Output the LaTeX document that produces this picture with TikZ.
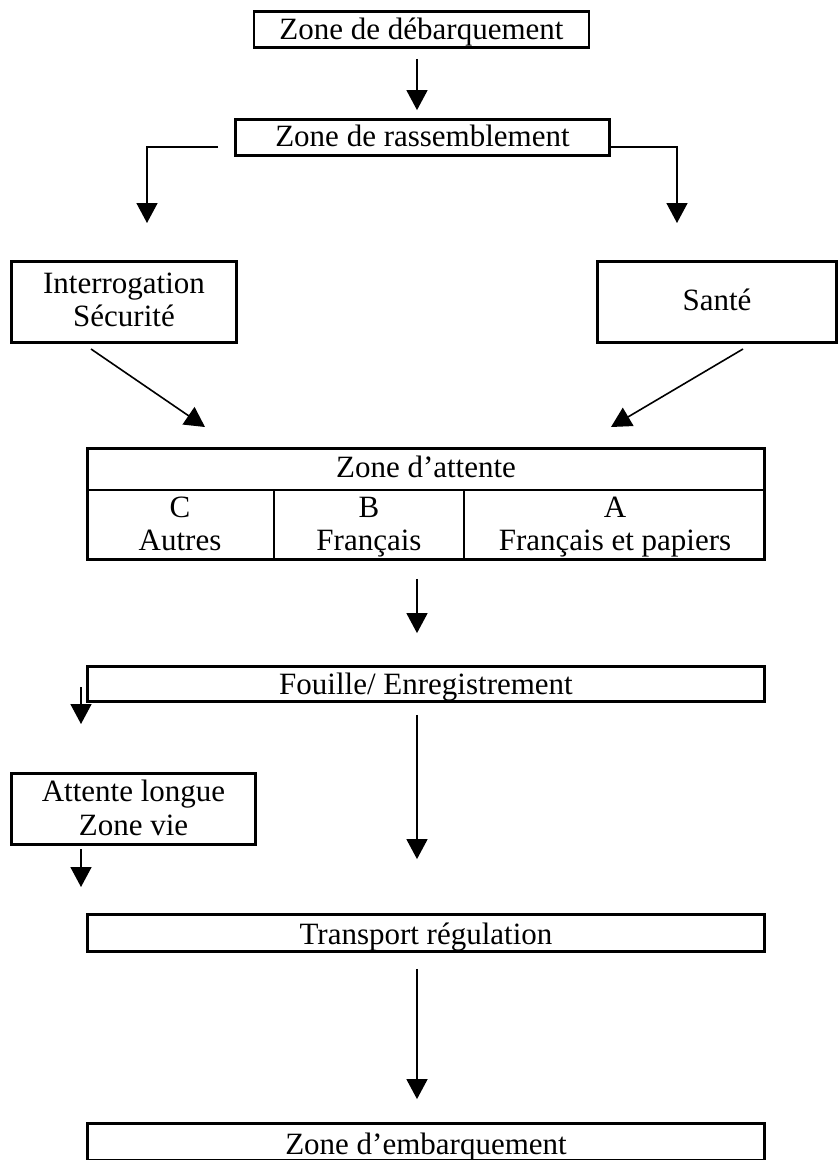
\documentclass[tikz,border=0pt]{standalone}
\usepackage{fontspec}
\setmainfont{Liberation Serif}
\usetikzlibrary{arrows.meta}
\begin{document}
\begin{tikzpicture}[x=1pt,y=-1pt,
  box/.style={draw, line width=2.8pt, inner sep=0pt, text depth=0pt, font=\fontsize{31}{34}\selectfont},
  lbl/.style={inner sep=0pt, anchor=base, font=\fontsize{31}{34}\selectfont},
  arr/.style={line width=1.6pt, -{Triangle[width=21pt,length=20pt]}},
  sep/.style={line width=2.8pt},
]
\useasboundingbox (0,0) rectangle (839,1160);
\fill[white] (0,0) rectangle (839,1160);

% boxes
\node[box, minimum width=335pt, minimum height=36pt, text height=20pt] (deb) at (421.5,29.5) {Zone de débarquement};
\node[box, minimum width=374pt, minimum height=36pt, text height=18pt] (ras) at (422.5,137.5) {Zone de rassemblement};
\node[box, minimum width=225pt, minimum height=81pt] (interr) at (124,302) {};
\node[lbl] (interr1) at (124,293) {Interrogation};
\node[lbl] (interr2) at (124,326) {Sécurité};
\node[box, minimum width=239pt, minimum height=81pt, text height=16pt] (sante) at (717,302) {Santé};

% waiting-zone table
\node[box, minimum width=677pt, minimum height=111pt] (tab) at (426,504) {};
\coordinate (rowL) at (86,490);
\coordinate (rowR) at (766,490);
\coordinate (c1t) at (274,490);
\coordinate (c2t) at (464,490);
\draw[sep] (rowL) -- (rowR);
\draw[sep] (c1t) -- (c1t |- tab.south);
\draw[sep] (c2t) -- (c2t |- tab.south);
\node[lbl] (tz) at (426,477) {Zone d’attente};
\node[lbl] (tc1) at (180,517) {C};
\node[lbl] (tc2) at (180,550) {Autres};
\node[lbl] (tb1) at (369,517) {B};
\node[lbl] (tb2) at (369,550) {Français};
\node[lbl] (ta1) at (615,517) {A};
\node[lbl] (ta2) at (615,550) {Français et papiers};

\node[box, minimum width=677pt, minimum height=35pt, text height=21pt] (fou) at (426,684) {Fouille/ Enregistrement};
\node[box, minimum width=244pt, minimum height=71pt] (att) at (133.5,809) {};
\node[lbl] (att1) at (133.5,801) {Attente longue};
\node[lbl] (att2) at (133.5,835) {Zone vie};
\node[box, minimum width=677pt, minimum height=37pt, text height=22pt] (tra) at (426,933) {Transport régulation};
\node[box, minimum width=677pt, minimum height=37pt, text height=24pt] (emb) at (426,1142) {Zone d’embarquement};

% free ends
\coordinate (ltip) at (147,223);
\coordinate (rtip) at (677,223);
\coordinate (d1a) at (91,349);
\coordinate (d1b) at (205,427);
\coordinate (d2a) at (743,349);
\coordinate (d2b) at (611,427);
\coordinate (f1) at (81,687);
\coordinate (f2) at (81,724);
\coordinate (g1) at (81,849);
\coordinate (g2) at (81,887);

% connectors
\draw[arr, shorten <=10pt, shorten >=8pt] ([xshift=-4.5pt]deb.south) -- ([xshift=-5.5pt]ras.north);
\draw[arr, shorten <=16pt] ([yshift=-9.5pt]ras.west) -| (ltip);
\draw[arr] ([yshift=-9.5pt]ras.east) -| (rtip);
\draw[arr] (d1a) -- (d1b);
\draw[arr] (d2a) -- (d2b);
\draw[arr, shorten <=18pt, shorten >=32pt] ([xshift=-9pt]tab.south) -- ([xshift=-9pt]fou.north);
\draw[arr] (f1) -- (f2);
\draw[arr, shorten <=12pt, shorten >=54pt] ([xshift=-9pt]fou.south) -- ([xshift=-9pt]tra.north);
\draw[arr] (g1) -- (g2);
\draw[arr, shorten <=16pt, shorten >=23pt] ([xshift=-9pt]tra.south) -- ([xshift=-9pt]emb.north);
\end{tikzpicture}
\end{document}
